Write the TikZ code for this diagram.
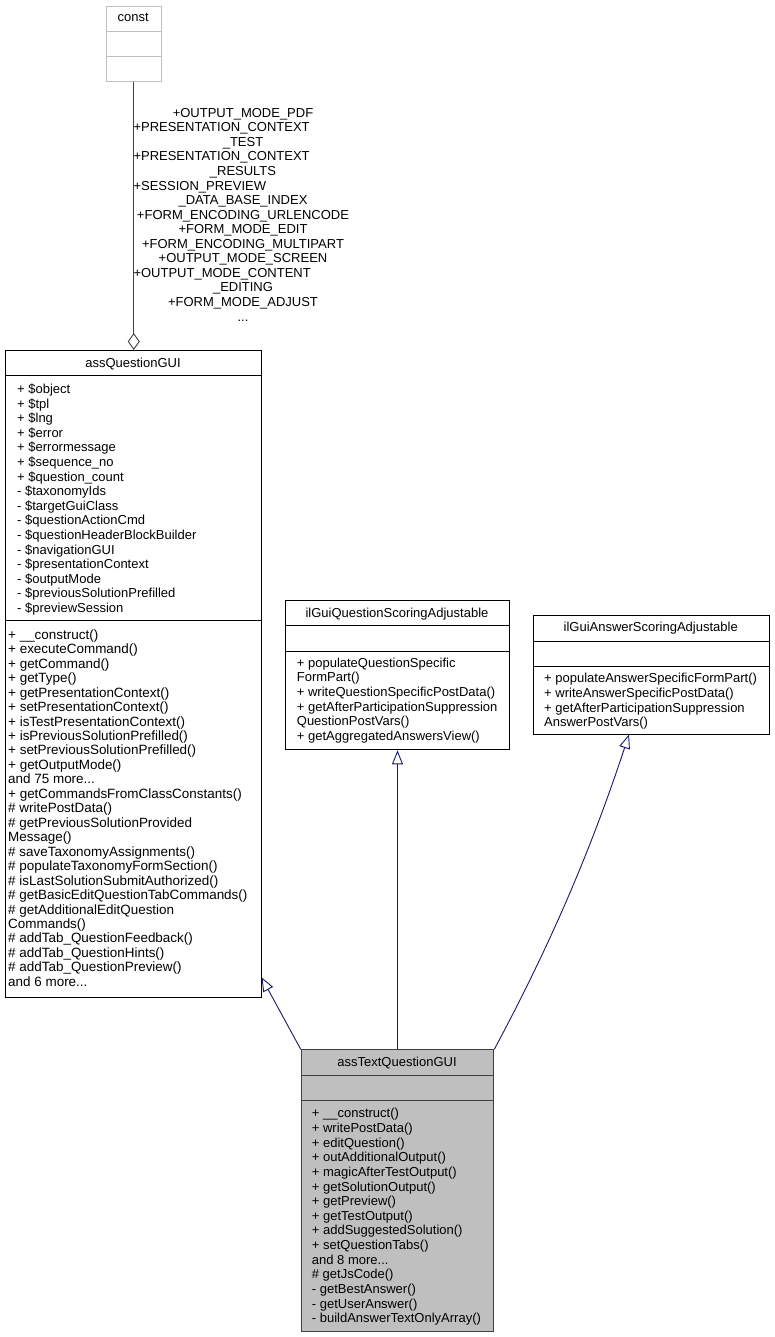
\documentclass[tikz,border=0pt]{standalone}
\usepackage{fontspec}
\setmainfont{Liberation Sans}
\usetikzlibrary{arrows.meta}
\definecolor{edgeblue}{HTML}{191970}
\definecolor{boxgray}{HTML}{BFBFBF}
\definecolor{darkline}{HTML}{404040}
\definecolor{lightline}{HTML}{BFBFBF}
\newcommand{\mydots}{...}
\begin{document}
\begin{tikzpicture}[x=1pt,y=-1pt,
  txt/.style={inner sep=0pt, font=\fontsize{13}{14.6}\selectfont},
  widetxt/.style={inner sep=0pt, font=\fontsize{13.45}{14.6}\selectfont},
  cls/.style={draw=black, line width=1pt, fill=white, inner sep=0pt, anchor=north west},
  inh/.style={draw=edgeblue, line width=0.9pt, -{Triangle[open,length=14pt,width=11pt]}},
  agg/.style={draw=darkline, line width=0.9pt, -{Diamond[open,length=17pt,width=12pt]}}]
\useasboundingbox[fill=white] (0,0) rectangle (774,1337);

% ---------- const ----------
\node[cls, draw=lightline, minimum width=54.5pt, minimum height=75.5pt] (const) at (106,6) {};
\draw[lightline, line width=1pt] (106,31.7) -- (160.5,31.7);
\draw[lightline, line width=1pt] (106,56.7) -- (160.5,56.7);
\node[txt, anchor=base] (constT) at (133.25,22) {const};

% ---------- assQuestionGUI ----------
\node[cls, minimum width=256pt, minimum height=647pt] (aqg) at (5,350) {};
\draw[line width=1pt] (5,375.5) -- (261,375.5);
\draw[line width=1pt] (5,620.5) -- (261,620.5);
\node[txt, anchor=base] (aqgT) at (133,367) {assQuestionGUI};
\foreach \s [count=\i from 0] in {{+ \$object},{+ \$tpl},{+ \$lng},{+ \$error},{+ \$errormessage},{+ \$sequence\_no},{+ \$question\_count},{- \$taxonomyIds},{- \$targetGuiClass},{- \$questionActionCmd},{- \$questionHeaderBlockBuilder},{- \$navigationGUI},{- \$presentationContext},{- \$outputMode},{- \$previousSolutionPrefilled},{- \$previewSession}}
  \node[txt, anchor=base west] (aqgA\i) at (17,{393.5+14.6*\i}) {\s};
\foreach \s [count=\i from 0] in {{+ \_\_construct()},{+ executeCommand()},{+ getCommand()},{+ getType()},{+ getPresentationContext()},{+ setPresentationContext()},{+ isTestPresentationContext()},{+ isPreviousSolutionPrefilled()},{+ setPreviousSolutionPrefilled()},{+ getOutputMode()},{and 75 more\mydots},{+ getCommandsFromClassConstants()},{\# writePostData()},{\# getPreviousSolutionProvided},{Message()},{\# saveTaxonomyAssignments()},{\# populateTaxonomyFormSection()},{\# isLastSolutionSubmitAuthorized()},{\# getBasicEditQuestionTabCommands()},{\# getAdditionalEditQuestion},{Commands()},{\# addTab\_QuestionFeedback()},{\# addTab\_QuestionHints()},{\# addTab\_QuestionPreview()},{and 6 more\mydots}}
  \node[widetxt, anchor=base west] (aqgM\i) at (8,{639.3+14.46*\i}) {\s};

% ---------- ilGuiQuestionScoringAdjustable ----------
\node[cls, minimum width=224.6pt, minimum height=149.3pt] (ilq) at (284.7,600) {};
\draw[line width=1pt] (284.7,625.7) -- (509.3,625.7);
\draw[line width=1pt] (284.7,651.7) -- (509.3,651.7);
\node[txt, anchor=base] (ilqT) at (397,617.2) {ilGuiQuestionScoringAdjustable};
\foreach \s [count=\i from 0] in {{+ populateQuestionSpecific},{FormPart()},{+ writeQuestionSpecificPostData()},{+ getAfterParticipationSuppression},{QuestionPostVars()},{+ getAggregatedAnswersView()}}
  \node[txt, anchor=base west] (ilqM\i) at (296.7,{667.2+14.6*\i}) {\s};

% ---------- ilGuiAnswerScoringAdjustable ----------
\node[cls, minimum width=236pt, minimum height=119.3pt] (ila) at (532.7,615) {};
\draw[line width=1pt] (532.7,641) -- (768.7,641);
\draw[line width=1pt] (532.7,666) -- (768.7,666);
\node[txt, anchor=base] (ilaT) at (650.7,631.2) {ilGuiAnswerScoringAdjustable};
\foreach \s [count=\i from 0] in {{+ populateAnswerSpecificFormPart()},{+ writeAnswerSpecificPostData()},{+ getAfterParticipationSuppression},{AnswerPostVars()}}
  \node[txt, anchor=base west] (ilaM\i) at (544,{682.8+14.6*\i}) {\s};

% ---------- assTextQuestionGUI ----------
\node[cls, draw=darkline, fill=boxgray, minimum width=192.6pt, minimum height=281.7pt] (atq) at (300.7,1049.3) {};
\draw[darkline, line width=1pt] (300.7,1075) -- (493.3,1075);
\draw[darkline, line width=1pt] (300.7,1100) -- (493.3,1100);
\node[txt, anchor=base] (atqT) at (397,1066.2) {assTextQuestionGUI};
\foreach \s [count=\i from 0] in {{+ \_\_construct()},{+ writePostData()},{+ editQuestion()},{+ outAdditionalOutput()},{+ magicAfterTestOutput()},{+ getSolutionOutput()},{+ getPreview()},{+ getTestOutput()},{+ addSuggestedSolution()},{+ setQuestionTabs()},{and 8 more\mydots},{\# getJsCode()},{- getBestAnswer()},{- getUserAnswer()},{- buildAnswerTextOnlyArray()}}
  \node[txt, anchor=base west] (atqM\i) at (311.7,{1117.8+14.64*\i}) {\s};

% ---------- connectors ----------
\draw[agg] (const.south) -- (const.south |- aqg.north);
\foreach \i/\s in {0/{+OUTPUT\_MODE\_PDF},2/{\_TEST},4/{\_RESULTS},6/{\_DATA\_BASE\_INDEX},7/{+FORM\_ENCODING\_URLENCODE},8/{+FORM\_MODE\_EDIT},9/{+FORM\_ENCODING\_MULTIPART},10/{+OUTPUT\_MODE\_SCREEN},12/{\_EDITING},13/{+FORM\_MODE\_ADJUST},14/{\mydots}}
  \node[txt, anchor=base] (lbl\i) at (243,{117.3+14.55*\i}) {\s};
\foreach \i/\s in {1/{+PRESENTATION\_CONTEXT},3/{+PRESENTATION\_CONTEXT},5/{+SESSION\_PREVIEW},11/{+OUTPUT\_MODE\_CONTENT}}
  \node[txt, anchor=base west] (lbl\i) at (133.3,{117.3+14.55*\i}) {\s};

\coordinate (aqgIn) at (261.5,977.3);
\coordinate (ilaIn) at (629,734.5);
\draw[inh] (atq.north west) -- (aqgIn);
\draw[inh] (atq.north) -- (ilq.south);
\draw[inh] (atq.north east) .. controls (553.8,938.3) and (592.7,844.3) .. (ilaIn);
\end{tikzpicture}
\end{document}
